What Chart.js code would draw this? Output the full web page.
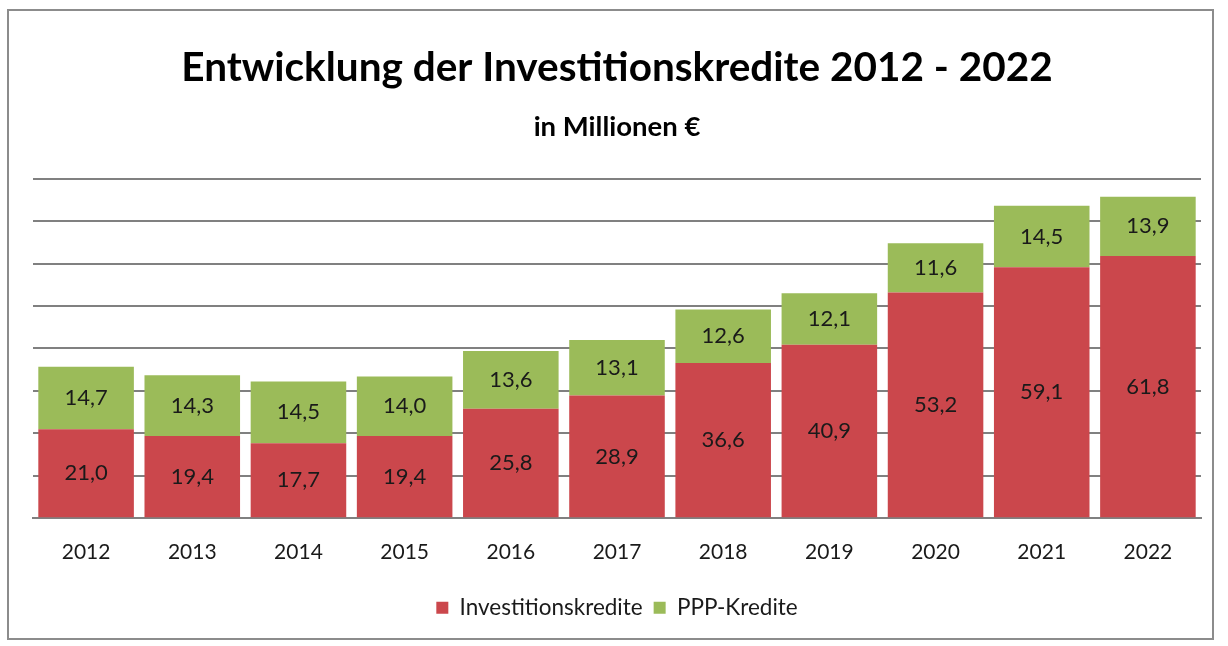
<!DOCTYPE html>
<html>
<head>
<meta charset="utf-8">
<script src="https://cdn.jsdelivr.net/npm/chart.js@4"></script>
<style>
  body { margin: 0; background: #fff; }
  .wrap { position: relative; width: 1228px; height: 646px; }
  .frame { position: absolute; left: 7px; top: 9px; width: 1203px; height: 627px; border: 2px solid #8c8c8c; pointer-events: none; }
  canvas { position: absolute; left: 0; top: 0; }
</style>
</head>
<body>
<div class="wrap">
  <canvas id="myChart" width="1228" height="646"></canvas>
  <div class="frame"></div>
</div>
<script>
const years = ["2012", "2013", "2014", "2015", "2016", "2017", "2018", "2019", "2020", "2021", "2022"];
const investKredite = [21.0, 19.4, 17.7, 19.4, 25.8, 28.9, 36.6, 40.9, 53.2, 59.1, 61.8];
const pppKredite = [14.7, 14.3, 14.5, 14.0, 13.6, 13.1, 12.6, 12.1, 11.6, 14.5, 13.9];

const colors = {
  invest: "#cb474c",
  ppp: "#9bbb59",
};

const FONT = "Lato, 'Liberation Sans', sans-serif";

// values written in the middle of each segment, German decimal comma
const segmentLabels = {
  id: "segmentLabels",
  afterDatasetsDraw(chart) {
    const ctx = chart.ctx;
    ctx.save();
    ctx.font = "22px " + FONT;
    ctx.fillStyle = "#1a1a1a";
    ctx.textAlign = "center";
    ctx.textBaseline = "middle";
    chart.data.datasets.forEach((ds, i) => {
      chart.getDatasetMeta(i).data.forEach((bar, j) => {
        const y = (bar.y + bar.base) / 2;
        ctx.fillText(ds.data[j].toFixed(1).replace(".", ","), bar.x, y);
      });
    });
    ctx.restore();
  },
};

const ctx = document.getElementById("myChart").getContext("2d");
new Chart(ctx, {
  type: "bar",
  data: {
    labels: years,
    datasets: [
      {
        label: "Investitionskredite",
        data: investKredite,
        backgroundColor: colors.invest,
        barPercentage: 0.9,
        categoryPercentage: 1.0,
      },
      {
        label: "PPP-Kredite",
        data: pppKredite,
        backgroundColor: colors.ppp,
        barPercentage: 0.9,
        categoryPercentage: 1.0,
      },
    ],
  },
  options: {
    responsive: false,
    animation: false,
    layout: { padding: { left: 33, right: 27, bottom: 17 } },
    scales: {
      x: {
        stacked: true,
        grid: { display: false, drawTicks: false },
        border: { color: "#808080", width: 2 },
        ticks: { color: "#1a1a1a", font: { family: FONT, size: 21 }, padding: 21 },
      },
      y: {
        stacked: true,
        min: 0,
        max: 80,
        ticks: { display: false, stepSize: 10 },
        grid: { color: "#808080", lineWidth: 2, drawTicks: false },
        border: { display: false },
      },
    },
    plugins: {
      title: {
        display: true,
        text: "Entwicklung der Investitionskredite 2012 - 2022",
        color: "#000",
        font: { family: FONT, size: 40.5, weight: "bold", lineHeight: 1.2 },
        padding: { top: 44, bottom: 9 },
      },
      subtitle: {
        display: true,
        text: "in Millionen €",
        color: "#000",
        font: { family: FONT, size: 27.5, weight: "bold", lineHeight: 1.2 },
        padding: { top: 9, bottom: 35 },
      },
      legend: {
        position: "bottom",
        labels: {
          color: "#1a1a1a",
          font: { family: FONT, size: 22.5 },
          boxWidth: 12,
          boxHeight: 12,
          padding: 11,
        },
      },
      tooltip: { enabled: false },
    },
  },
  plugins: [segmentLabels],
});
</script>
</body>
</html>
